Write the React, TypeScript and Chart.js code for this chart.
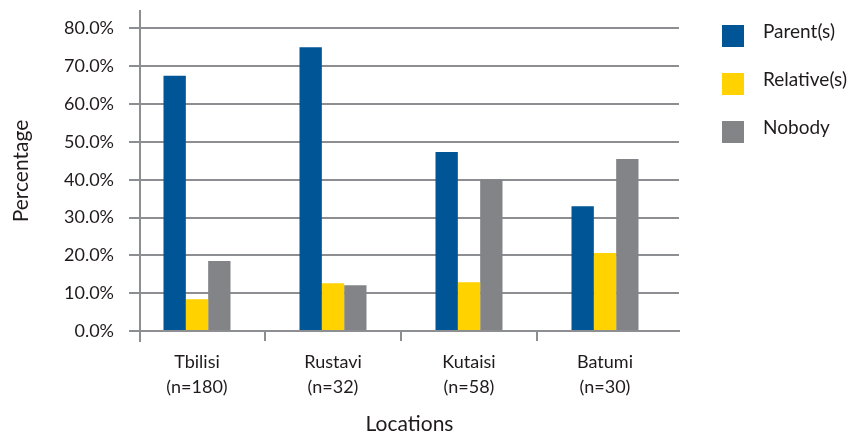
import React, { useEffect, useRef } from "react";
import { Chart, registerables } from "chart.js";

Chart.register(...registerables);

// Locations and their sample sizes
const categories = ["Tbilisi", "Rustavi", "Kutaisi", "Batumi"];
const sampleSizes = [180, 32, 58, 30];

// Share of respondents per location (%)
const parentValues = [67.5, 75.0, 47.3, 33.0];
const relativeValues = [8.4, 12.6, 12.9, 20.6];
const nobodyValues = [18.5, 12.1, 40.1, 45.5];

// Y axis ticks
const yTicks = [0, 10, 20, 30, 40, 50, 60, 70, 80];

const seriesNames = ["Parent(s)", "Relative(s)", "Nobody"];
const seriesColors = ["#005596", "#FFD200", "#838488"];

const GRID = "#8d8e92";
const INK = "#1f1b1c";
const FONT = "Lato, 'Open Sans', sans-serif";

// Draws the key to the right of the plot
const sideKey = {
  id: "sideKey",
  afterDraw(chart: any) {
    const { ctx, chartArea } = chart;
    const x = chartArea.right + 43;
    const y0 = chartArea.top + 14;
    const box = 22;
    const step = 48;
    ctx.save();
    ctx.font = `19px ${FONT}`;
    ctx.textAlign = "left";
    ctx.textBaseline = "alphabetic";
    chart.data.datasets.forEach((ds: any, i: number) => {
      const y = y0 + i * step;
      ctx.fillStyle = ds.backgroundColor;
      ctx.fillRect(x, y, box, box);
      ctx.fillStyle = INK;
      ctx.fillText(ds.label, x + box + 19, y + 13);
    });
    ctx.restore();
  },
};

// Tick mark under the left end of the category axis
const edgeTick = {
  id: "edgeTick",
  afterDraw(chart: any) {
    const { ctx, chartArea } = chart;
    const xs = chart.scales.x;
    const len = xs.options.grid.tickLength;
    ctx.save();
    ctx.strokeStyle = GRID;
    ctx.lineWidth = 2;
    ctx.beginPath();
    ctx.moveTo(Math.round(chartArea.left), chartArea.bottom);
    ctx.lineTo(Math.round(chartArea.left), chartArea.bottom + len + 1);
    ctx.stroke();
    ctx.restore();
  },
};

export default function App() {
  const canvasRef = useRef<HTMLCanvasElement | null>(null);

  useEffect(() => {
    const canvas = canvasRef.current;
    if (!canvas) return;

    const series = [parentValues, relativeValues, nobodyValues];
    const datasets = series.map((vals, s) => ({
      label: seriesNames[s],
      data: vals.map((v, i) => ({ x: i, y: v })),
      backgroundColor: seriesColors[s],
      borderWidth: 0,
      categoryPercentage: 0.4926,
      barPercentage: 1,
    }));

    const chart = new Chart(canvas, {
      type: "bar",
      data: { datasets },
      plugins: [sideKey, edgeTick],
      options: {
        animation: false,
        responsive: false,
        maintainAspectRatio: false,
        layout: { padding: { top: 11, right: 177, bottom: 0, left: 0 } },
        plugins: {
          legend: { display: false },
          tooltip: { enabled: false },
        },
        scales: {
          x: {
            type: "linear",
            offset: false,
            min: -0.4191,
            max: 3.5441,
            afterBuildTicks: (scale: any) => {
              scale.ticks = categories.map((_, i) => ({ value: i }));
            },
            afterFit: (scale: any) => {
              scale.height = 104;
              scale.paddingLeft = 0;
              scale.paddingRight = 0;
            },
            grid: {
              offset: true,
              drawOnChartArea: false,
              drawTicks: true,
              tickLength: 10,
              // only the separators between locations get a tick mark
              color: (c: any) => (c.type === "tick" ? GRID : "rgba(0,0,0,0)"),
              lineWidth: 2,
            },
            border: { display: true, color: GRID, width: 2 },
            ticks: {
              autoSkip: false,
              maxRotation: 0,
              minRotation: 0,
              padding: 9,
              color: INK,
              font: { family: FONT, size: 18, lineHeight: 1.36 },
              callback: (_v: any, i: number) => [categories[i], `(n=${sampleSizes[i]})`],
            },
            title: {
              display: true,
              text: "Locations",
              color: INK,
              font: { family: FONT, size: 21, lineHeight: 1 },
              padding: { top: 0, bottom: 0 },
            },
          },
          y: {
            type: "linear",
            min: 0,
            max: 84.6,
            afterBuildTicks: (scale: any) => {
              scale.ticks = yTicks.map((v) => ({ value: v }));
            },
            afterFit: (scale: any) => {
              scale.width = 140;
              scale.paddingTop = 0;
              scale.paddingBottom = 0;
            },
            grid: {
              color: GRID,
              lineWidth: 2,
              drawTicks: true,
              tickLength: 11,
            },
            border: { display: true, color: GRID, width: 2 },
            ticks: {
              padding: 15,
              color: INK,
              font: { family: FONT, size: 18 },
              callback: (v: any) => `${Number(v).toFixed(1)}%`,
            },
            title: {
              display: true,
              text: "Percentage",
              color: INK,
              font: { family: FONT, size: 21, lineHeight: 1.2 },
              padding: { top: 9, bottom: 0 },
            },
          },
        },
      },
    } as any);

    return () => chart.destroy();
  }, []);

  return (
    <div style={{ position: "absolute", left: 0, top: 0, width: 856, height: 435, background: "#fff" }}>
      <canvas ref={canvasRef} width={856} height={435} style={{ display: "block" }} />
    </div>
  );
}
